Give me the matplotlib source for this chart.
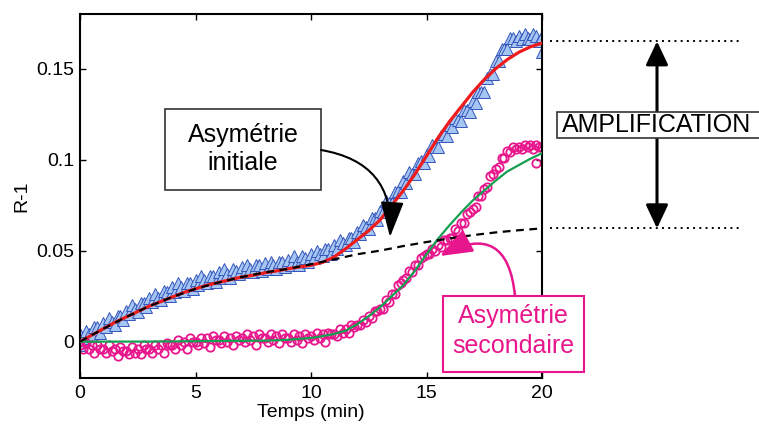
import numpy as np
import matplotlib.pyplot as plt
import matplotlib.transforms as mtransforms
from matplotlib.patches import Rectangle, FancyArrowPatch
from matplotlib.lines import Line2D

plt.rcParams['font.family'] = ['Liberation Sans', 'DejaVu Sans']

######### data #################
# triangles (initial asymmetry), one value every 0.125 min (one row = 1 min)
tri_t = np.arange(0, 20.001, 0.125)
tri_v = [0.004, 0.002, 0.006, 0.004, 0.003, 0.008, 0.008, 0.005,
         0.010, 0.008, 0.013, 0.011, 0.009, 0.014, 0.014, 0.012,
         0.017, 0.015, 0.020, 0.018, 0.016, 0.021, 0.021, 0.019,
         0.024, 0.022, 0.026, 0.024, 0.023, 0.028, 0.027, 0.025,
         0.030, 0.027, 0.032, 0.030, 0.028, 0.032, 0.032, 0.029,
         0.034, 0.031, 0.036, 0.034, 0.032, 0.036, 0.036, 0.033,
         0.038, 0.035, 0.040, 0.037, 0.035, 0.040, 0.039, 0.037,
         0.041, 0.038, 0.042, 0.040, 0.038, 0.042, 0.042, 0.039,
         0.043, 0.040, 0.044, 0.042, 0.040, 0.044, 0.044, 0.041,
         0.045, 0.042, 0.047, 0.044, 0.042, 0.047, 0.046, 0.044,
         0.048, 0.046, 0.050, 0.048, 0.047, 0.051, 0.051, 0.048,
         0.053, 0.051, 0.056, 0.054, 0.053, 0.057, 0.057, 0.055,
         0.060, 0.059, 0.064, 0.063, 0.062, 0.068, 0.068, 0.067,
         0.072, 0.071, 0.077, 0.076, 0.076, 0.082, 0.083, 0.082,
         0.088, 0.087, 0.093, 0.092, 0.092, 0.098, 0.099, 0.098,
         0.103, 0.102, 0.108, 0.107, 0.107, 0.113, 0.114, 0.113,
         0.119, 0.118, 0.123, 0.122, 0.121, 0.127, 0.127, 0.126,
         0.132, 0.131, 0.137, 0.137, 0.137, 0.145, 0.147, 0.147,
         0.154, 0.154, 0.161, 0.161, 0.161, 0.167, 0.167, 0.165,
         0.168, 0.166, 0.169, 0.167, 0.166, 0.169, 0.168, 0.165,
         0.168]
tri_extra_t = [0.0, 20.0]
tri_extra_v = [-0.002, 0.159]

# circles (secondary asymmetry), one value every 0.125 min (one row = 1 min)
circ_t = np.arange(0, 20.001, 0.125)
circ_v = [-0.002, -0.004, -0.001, -0.004, -0.002, -0.006, -0.002, -0.004,
          -0.004, -0.006, -0.002, -0.005, -0.004, -0.008, -0.003, -0.005,
          -0.005, -0.007, -0.003, -0.006, -0.004, -0.007, -0.002, -0.004,
          -0.004, -0.006, -0.002, -0.004, -0.002, -0.006, -0.001, -0.002,
          -0.002, -0.004, 0.001, -0.002, 0.000, -0.004, 0.002, 0.000,
          0.000, -0.002, 0.002, -0.001, 0.002, -0.003, 0.003, 0.001,
          0.001, -0.001, 0.003, 0.000, 0.002, -0.002, 0.003, 0.001,
          0.002, 0.000, 0.004, 0.001, 0.003, -0.002, 0.004, 0.002,
          0.002, 0.000, 0.004, 0.001, 0.003, -0.001, 0.004, 0.002,
          0.002, 0.000, 0.004, 0.001, 0.003, -0.001, 0.004, 0.002,
          0.003, 0.001, 0.005, 0.002, 0.004, 0.000, 0.005, 0.004,
          0.004, 0.003, 0.007, 0.005, 0.007, 0.005, 0.009, 0.008,
          0.009, 0.009, 0.012, 0.011, 0.014, 0.013, 0.017, 0.017,
          0.018, 0.018, 0.023, 0.022, 0.026, 0.026, 0.031, 0.032,
          0.034, 0.035, 0.039, 0.038, 0.042, 0.042, 0.046, 0.047,
          0.048, 0.048, 0.051, 0.050, 0.053, 0.052, 0.056, 0.056,
          0.057, 0.057, 0.062, 0.061, 0.065, 0.065, 0.070, 0.071,
          0.073, 0.074, 0.080, 0.080, 0.084, 0.085, 0.091, 0.092,
          0.095, 0.096, 0.101, 0.101, 0.105, 0.104, 0.107, 0.106,
          0.107, 0.106, 0.108, 0.107, 0.108, 0.106, 0.108, 0.107,
          0.107]
circ_extra_t = [19.75]
circ_extra_v = [0.098]

# fits
fit_t = np.arange(0, 20.01, 0.5)
red_fit = [0.000, 0.0035, 0.007, 0.0105, 0.0135, 0.0165, 0.0195, 0.022, 0.0245, 0.027,
           0.029, 0.031, 0.0325, 0.034, 0.0355, 0.0365, 0.0378, 0.0388, 0.040, 0.041,
           0.042, 0.0435, 0.0465, 0.051, 0.056, 0.061, 0.067, 0.075, 0.083, 0.092,
           0.102, 0.112, 0.121, 0.129, 0.137, 0.144, 0.150, 0.155, 0.159, 0.162,
           0.164]
green_fit = [0.000, 0.000, 0.000, 0.000, 0.000, 0.000, 0.000, 0.0001, 0.0001, 0.0002,
             0.0002, 0.0003, 0.0003, 0.0004, 0.0004, 0.0005, 0.0005, 0.0007, 0.001, 0.0015,
             0.002, 0.003, 0.0042, 0.006, 0.0095, 0.014, 0.019, 0.025, 0.031, 0.039,
             0.048, 0.0565, 0.064, 0.071, 0.0775, 0.083, 0.0885, 0.0935, 0.097, 0.1005,
             0.1035]
dash_t = np.arange(0, 21, 1)
dash_fit = [0.0, 0.007, 0.0135, 0.0195, 0.0245, 0.029, 0.0325, 0.0355, 0.038, 0.040,
            0.0425, 0.0452, 0.048, 0.050, 0.0525, 0.0547, 0.0567, 0.0585, 0.060, 0.0612,
            0.0622]

xticks = [0, 5, 10, 15, 20]
yticks = [0, 0.05, 0.1, 0.15]
ytick_labels = ['0', '0.05', '0.1', '0.15']

amp_top = 0.165
amp_bottom = dash_fit[-1]

######### figure #################
W, H = 759, 425


def fx(px):
    return px / W


def fy(py):
    return 1 - py / H


fig = plt.figure(figsize=(W / 100, H / 100), dpi=100)
ax = fig.add_axes([fx(80), fy(378), 462 / W, 364 / H])

tri_face = '#a5c6f2'
tri_edge = '#3555bb'
magenta = '#e8168c'

ax.plot(tri_t, tri_v, ls='none', marker='^', ms=9, mfc=tri_face, mec=tri_edge, mew=0.7, zorder=2)
ax.plot(tri_extra_t, tri_extra_v, ls='none', marker='^', ms=9, mfc=tri_face, mec=tri_edge, mew=0.7, zorder=2)
ax.plot(circ_t, circ_v, ls='none', marker='o', ms=6, mfc='none', mec=magenta, mew=1.3, zorder=2)
ax.plot(circ_extra_t, circ_extra_v, ls='none', marker='o', ms=6, mfc='none', mec=magenta, mew=1.3, zorder=2)
ax.plot(fit_t, red_fit, color='#ee1c1c', lw=2.3, zorder=3)
ax.plot(fit_t, green_fit, color='#14a050', lw=1.6, zorder=3)
ax.plot(dash_t, dash_fit, color='black', lw=1.6, ls=(0, (3.5, 2.5)), zorder=4)

ax.set_xlim(0, 20)
ax.set_ylim(-0.02, 0.18)
ax.set_xticks(xticks)
ax.set_yticks(yticks)
ax.set_yticklabels(ytick_labels)
ax.tick_params(direction='in', top=True, right=True, length=4, width=1,
               labelsize=14, pad=5)
ax.tick_params(axis='y', pad=4)
for s in ax.spines.values():
    s.set_linewidth(1.5)
ax.set_xlabel('Temps (min)', fontsize=14)
ax.set_ylabel('R-1', fontsize=14)
ax.xaxis.set_label_coords(0.5, -0.072)
ax.yaxis.set_label_coords(-0.108, 0.5)

######### annotations #################
def box(x0, y0, x1, y1, ec, lw, z=5):
    r = Rectangle((fx(x0), fy(y1)), (x1 - x0) / W, (y1 - y0) / H,
                  transform=fig.transFigure, fc='white', ec=ec, lw=lw, zorder=z)
    fig.add_artist(r)


# Asymetrie initiale
box(165, 109, 321, 190, '#333333', 1.2)
fig.text(fx(243), fy(149), 'Asymétrie\ninitiale', ha='center', va='center',
         fontsize=18, linespacing=1.2, zorder=6)
fig.add_artist(FancyArrowPatch((fx(321), fy(150)), (fx(390), fy(237)),
                               transform=fig.transFigure,
                               arrowstyle='-|>,head_length=1.1,head_width=0.36',
                               connectionstyle='arc3,rad=-0.45', mutation_scale=20,
                               color='black', lw=1.5, shrinkA=0, shrinkB=0, zorder=6))

# Asymetrie secondaire
box(443, 296, 584, 372, magenta, 1.5)
fig.text(fx(513.5), fy(331), 'Asymétrie\nsecondaire', ha='center', va='center',
         fontsize=18, linespacing=1.3, color=magenta, zorder=6)
fig.add_artist(FancyArrowPatch((fx(515), fy(296)), (fx(440), fy(256)),
                               transform=fig.transFigure,
                               arrowstyle='-|>,head_length=1.0,head_width=0.38',
                               connectionstyle='arc3,rad=0.75', mutation_scale=20,
                               color=magenta, lw=1.8, shrinkA=0, shrinkB=0, zorder=6))

# Amplification
blend = mtransforms.blended_transform_factory(fig.transFigure, ax.transData)
for lev in [amp_top, amp_bottom]:
    fig.add_artist(Line2D([fx(550), fx(740)], [lev, lev], transform=blend,
                          color='black', lw=1.4, ls=(0, (1, 2.2)), zorder=3))
fig.add_artist(FancyArrowPatch((fx(657), amp_bottom), (fx(657), amp_top),
                               transform=blend,
                               arrowstyle='<|-|>,head_length=0.72,head_width=0.34',
                               mutation_scale=20, color='black', lw=2.2,
                               shrinkA=0, shrinkB=0, zorder=4))
box(557, 112, 762, 138, '#333333', 1.2)
fig.text(fx(657), fy(125), 'AMPLIFICATION', ha='center', va='center',
         fontsize=18, zorder=6)

plt.savefig('out.png', dpi=100)
plt.close()
